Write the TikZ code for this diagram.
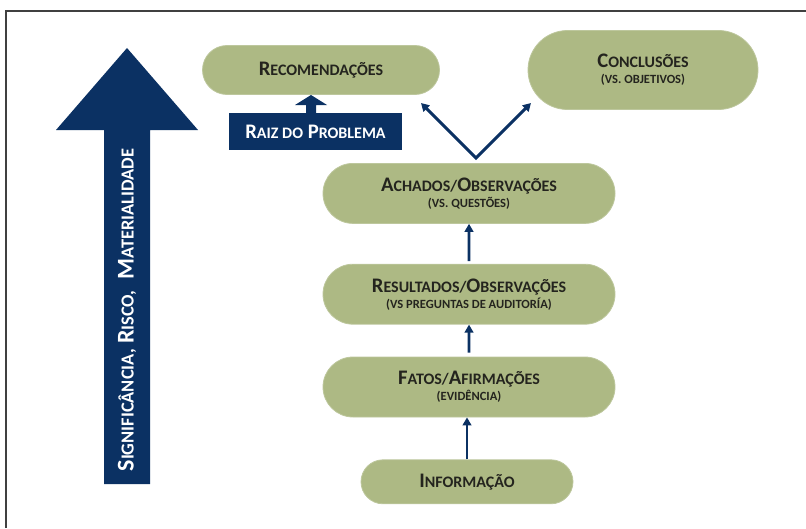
\documentclass[tikz,border=0pt]{standalone}
\usepackage{fontspec}
\setmainfont{Carlito}
\usepackage{xcolor}
\usepackage{tikz}
\usetikzlibrary{arrows.meta,positioning,shapes.misc}

\definecolor{olivebox}{RGB}{173,185,132}
\definecolor{navyblue}{RGB}{11,49,99}
\definecolor{boxtext}{RGB}{36,36,30}
\newcommand{\capsm}[2]{#1{\fontsize{12}{11}\selectfont #2}}
\newcommand{\capbig}[2]{#1{\fontsize{13.8}{13}\selectfont #2}}
\newcommand{\subline}[1]{{\fontsize{9.4}{8}\selectfont #1}}

\begin{document}
\begin{tikzpicture}[
    x=0.75pt, y=-0.75pt,
    font=\bfseries\fontsize{15.5}{12}\selectfont,
    pillbox/.style={rounded rectangle, fill=olivebox, draw=olivebox!80!white, line width=0.6pt, align=center, inner sep=0pt, text=boxtext, minimum width=219pt, minimum height=45pt},
    rootbox/.style={rectangle, fill=navyblue, text=white, inner sep=0pt, minimum width=129.75pt, minimum height=27.75pt},
    link/.style={-{Triangle[width=6.5pt,length=6pt]}, draw=navyblue, line width=2.2pt},
    bigarrow/.style={fill=navyblue}
]
\useasboundingbox (0,0) rectangle (806,528);
\draw[black!75, line width=1pt] (6,528) -- (6,11) -- (806,11);

% vertical scale arrow
\fill[bigarrow] (104,484) -- (104,130) -- (56,130) -- (127,48) -- (198,130) -- (150,130) -- (150,484) -- cycle;
\node[rotate=90, text=white, font=\bfseries\fontsize{18}{18}\selectfont] (scale) at (127,310) {\capbig{S}{IGNIFICÂNCIA,} \capbig{R}{ISCO,}\ \ \capbig{M}{ATERIALIDADE}};

% top level
\node[pillbox, minimum width=177.75pt, minimum height=36.75pt] (recom) at (321,70) {\capsm{R}{ECOMENDAÇÕES}};
\node[pillbox, minimum width=172.5pt, minimum height=59.25pt] (concl) at (643,70) {\capsm{C}{ONCLUSÕES}\\\subline{(VS. OBJETIVOS)}};
\node[rootbox] (raiz) at (315.5,131.5) {\capsm{R}{AIZ DO} \capsm{P}{ROBLEMA}};
\fill[bigarrow] (306,113) -- (306,105) -- (295,105) -- (311,95) -- (327,105) -- (316,105) -- (316,113) -- cycle;

% stack
\node[pillbox] (fatos) at (469,387) {\capsm{F}{ATOS/}\capsm{A}{FIRMAÇÕES}\\\subline{(EVIDÊNCIA)}};
\node[pillbox, above=24pt of fatos] (result) {\capsm{R}{ESULTADOS/}\capsm{O}{BSERVAÇÕES}\\\subline{(VS PREGUNTAS DE AUDITORÍA)}};
\node[pillbox, above=30pt of result] (achados) {\capsm{A}{CHADOS/}\capsm{O}{BSERVAÇÕES}\\\subline{(VS. QUESTÕES)}};
\node[pillbox, minimum width=159pt, minimum height=33pt, below=31.5pt of fatos, xshift=-1.5pt] (info) {\capsm{I}{NFORMAÇÃO}};

\draw[link] (info.north) -- (info.north |- fatos.south);
\draw[link, shorten <=3pt] (fatos) -- (result);
\draw[link, shorten <=2pt] (result) -- (achados);

% split towards recommendations and conclusions
\coordinate (vtip) at (476,158);
\coordinate (recend) at (421,103);
\coordinate (conend) at (531,103);
\draw[link, {Triangle[width=6.5pt,length=6pt]}-{Triangle[width=6.5pt,length=6pt]}, line join=miter] (recend) -- (vtip) -- (conend);
\end{tikzpicture}
\end{document}
